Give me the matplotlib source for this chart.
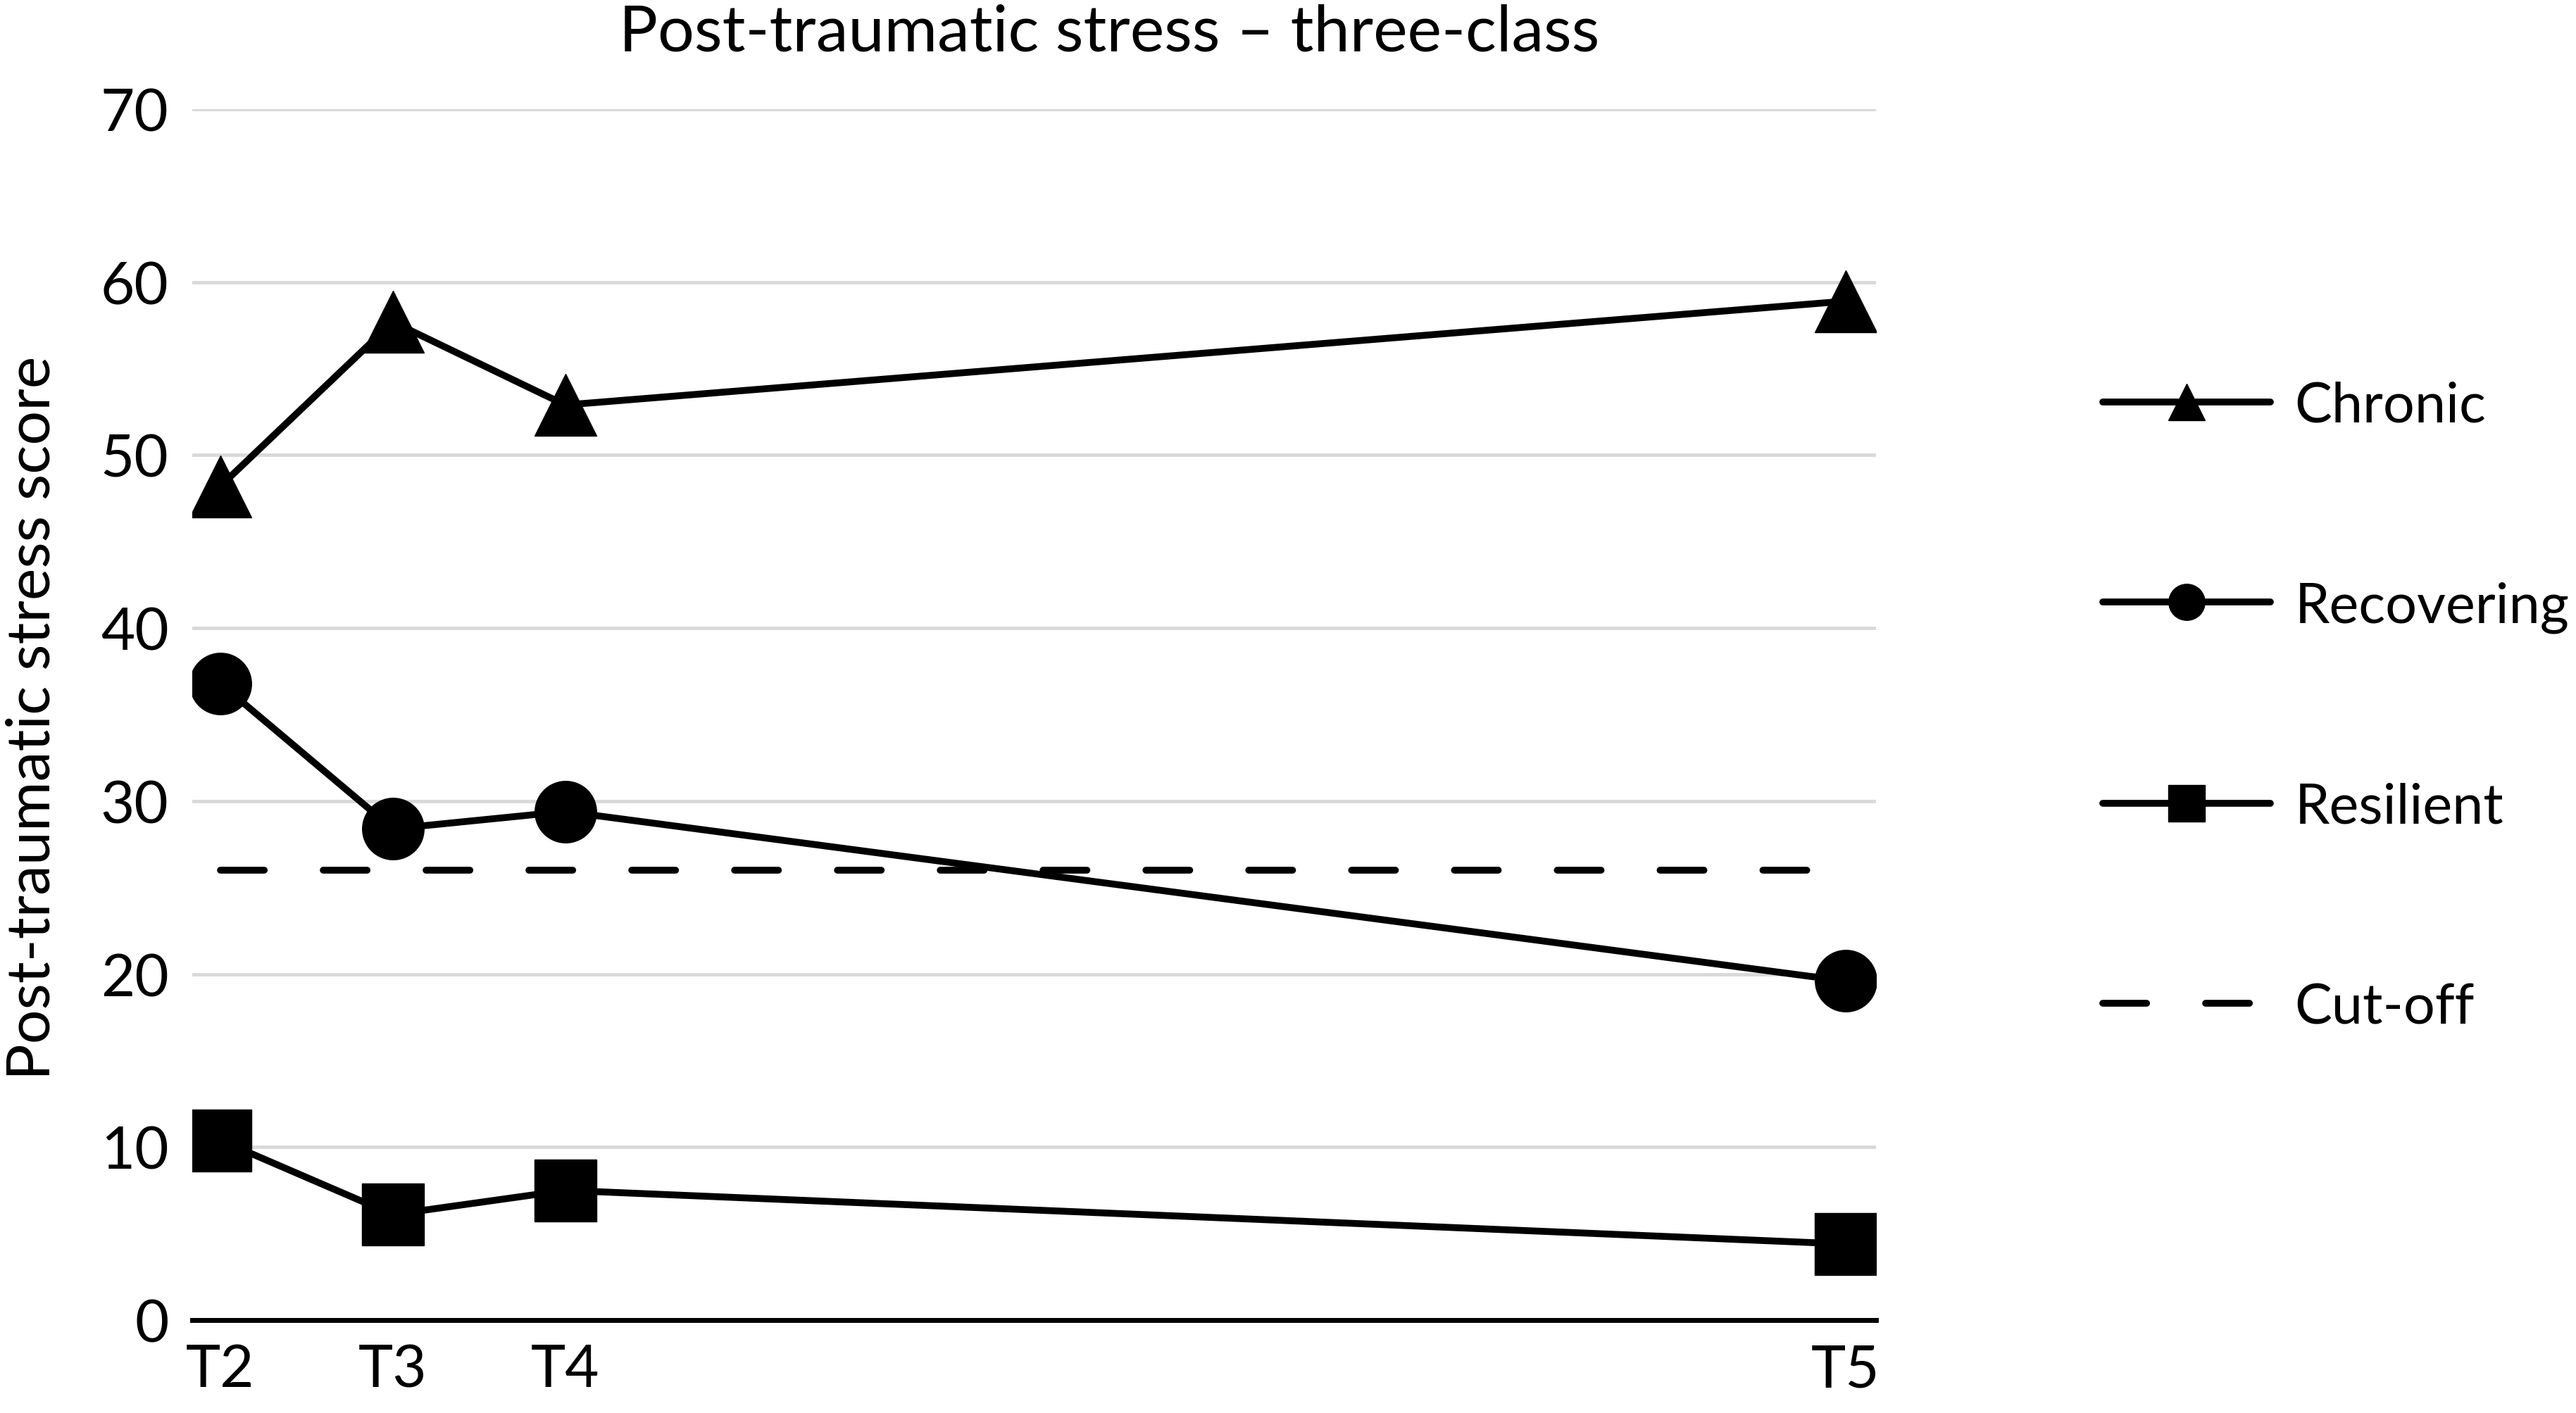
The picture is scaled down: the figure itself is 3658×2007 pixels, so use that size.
import matplotlib
matplotlib.use("Agg")
import matplotlib.pyplot as plt
from matplotlib.lines import Line2D

plt.rcParams['font.family'] = ['Lato', 'DejaVu Sans']

# time points (spacing: T5 lies far to the right)
time_labels = ["T2", "T3", "T4", "T5"]
time_x = [0, 1, 2, 9.42]

# class trajectories
chronic = [48.2, 57.7, 52.9, 58.9]
recovering = [36.8, 28.4, 29.4, 19.6]
resilient = [10.4, 6.1, 7.5, 4.4]
cutoff = 26

series_names = ["Chronic", "Recovering", "Resilient"]
series_markers = ["^", "o", "s"]

fig = plt.figure(figsize=(36.58, 20.08), dpi=100)
ax = fig.add_axes([0.0746, 0.0657, 0.6536, 0.8566])

lw = 7
dash = (0, (6.4, 8.62))

for vals, mk in zip([chronic, recovering, resilient], series_markers):
    ax.plot(time_x, vals, color='black', lw=lw, marker=mk, markersize=63,
            markeredgewidth=1, solid_capstyle='round', solid_joinstyle='round', zorder=3)

ax.plot([time_x[0], time_x[-1]], [cutoff, cutoff], color='black', lw=lw,
        linestyle=dash, dash_capstyle='round', zorder=2)

ax.set_ylim(0, 70)
ax.set_xlim(-0.163, 9.596)
ax.set_yticks(range(0, 71, 10))
ax.set_xticks(time_x)
ax.set_xticklabels(time_labels)
ax.yaxis.grid(True, color='#d9d9d9', lw=3.5)
ax.set_axisbelow(True)
for s in ['top', 'right', 'left']:
    ax.spines[s].set_visible(False)
ax.spines['bottom'].set_linewidth(5)
ax.tick_params(axis='both', length=0, labelsize=60, labelcolor='black')
ax.tick_params(axis='y', pad=24)
ax.tick_params(axis='x', pad=24)

fig.text(0.4306, 0.9766, "Post-traumatic stress \u2013 three-class", ha='center', va='center',
         fontsize=66, color='black')
fig.text(0.0128, 0.492, "Post-traumatic stress score", rotation=90, ha='center', va='center',
         fontsize=62, color='black')

handles = [Line2D([], [], color='black', lw=lw, marker=mk, markersize=37,
                  solid_capstyle='round') for mk in series_markers]
handles.append(Line2D([], [], color='black', lw=lw, linestyle=dash, dash_capstyle='round'))
labels = series_names + ["Cut-off"]
leg = fig.legend(handles, labels, loc='center left', bbox_to_anchor=(0.8163, 0.4995),
                 frameon=False, borderpad=0, borderaxespad=0, handlelength=3.0,
                 handletextpad=0.44, labelspacing=2.68, prop={'size': 57})

fig.savefig("out.png", dpi=100)
